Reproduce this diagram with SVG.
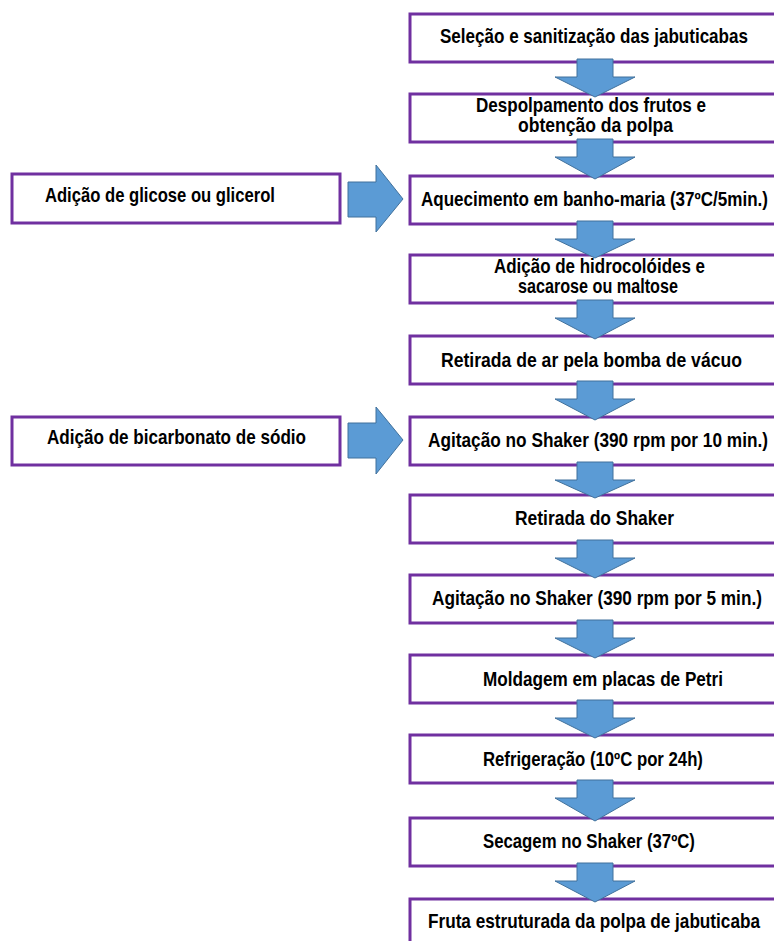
<svg xmlns="http://www.w3.org/2000/svg" width="774" height="941" viewBox="0 0 774 941">
<style>
.box{fill:#ffffff;stroke:#7030A0;stroke-width:3}
.t{font-family:"Liberation Sans",Arial,sans-serif;font-weight:bold;font-size:19.5px;fill:#000000}
.ar{fill:#5B9BD5;stroke:#41719C;stroke-width:1}
</style>
<rect width="774" height="941" fill="#ffffff"/>
<g id="n1"><rect class="box" x="410" y="14" width="380" height="48"/><text class="t" transform="scale(0.85 1)" x="517.6" y="43" textLength="362.4" lengthAdjust="spacingAndGlyphs">Seleção e sanitização das jabuticabas</text></g>
<g id="n2"><rect class="box" x="410" y="94" width="380" height="48"/><text class="t" transform="scale(0.85 1)" x="560" y="112" textLength="270.6" lengthAdjust="spacingAndGlyphs">Despolpamento dos frutos e</text><text class="t" transform="scale(0.85 1)" x="609.4" y="132" textLength="182.4" lengthAdjust="spacingAndGlyphs">obtenção da polpa</text></g>
<g id="n3"><rect class="box" x="410" y="176" width="380" height="48"/><text class="t" transform="scale(0.85 1)" x="495.3" y="206" textLength="408.2" lengthAdjust="spacingAndGlyphs">Aquecimento em banho-maria (37ºC/5min.)</text></g>
<g id="n4"><rect class="box" x="410" y="255" width="380" height="48"/><text class="t" transform="scale(0.85 1)" x="581.2" y="273" textLength="248.2" lengthAdjust="spacingAndGlyphs">Adição de hidrocolóides e</text><text class="t" transform="scale(0.85 1)" x="609.4" y="293" textLength="188.2" lengthAdjust="spacingAndGlyphs">sacarose ou maltose</text></g>
<g id="n5"><rect class="box" x="410" y="336" width="380" height="48"/><text class="t" transform="scale(0.85 1)" x="518.8" y="367" textLength="354.1" lengthAdjust="spacingAndGlyphs">Retirada de ar pela bomba de vácuo</text></g>
<g id="n6"><rect class="box" x="410" y="417" width="380" height="48"/><text class="t" transform="scale(0.85 1)" x="503.5" y="447" textLength="400" lengthAdjust="spacingAndGlyphs">Agitação no Shaker (390 rpm por 10 min.)</text></g>
<g id="n7"><rect class="box" x="410" y="495" width="380" height="48"/><text class="t" transform="scale(0.85 1)" x="605.9" y="525" textLength="187.1" lengthAdjust="spacingAndGlyphs">Retirada do Shaker</text></g>
<g id="n8"><rect class="box" x="410" y="575" width="380" height="48"/><text class="t" transform="scale(0.85 1)" x="508.2" y="605" textLength="388.2" lengthAdjust="spacingAndGlyphs">Agitação no Shaker (390 rpm por 5 min.)</text></g>
<g id="n9"><rect class="box" x="410" y="655" width="380" height="48"/><text class="t" transform="scale(0.85 1)" x="568.2" y="686" textLength="282.4" lengthAdjust="spacingAndGlyphs">Moldagem em placas de Petri</text></g>
<g id="n10"><rect class="box" x="410" y="735" width="380" height="48"/><text class="t" transform="scale(0.85 1)" x="568.2" y="766" textLength="258.8" lengthAdjust="spacingAndGlyphs">Refrigeração (10ºC por 24h)</text></g>
<g id="n11"><rect class="box" x="410" y="818" width="380" height="48"/><text class="t" transform="scale(0.85 1)" x="568.2" y="848" textLength="249.4" lengthAdjust="spacingAndGlyphs">Secagem no Shaker (37ºC)</text></g>
<g id="n12"><rect class="box" x="410" y="899" width="380" height="60"/><text class="t" transform="scale(0.85 1)" x="503.5" y="928" textLength="390.6" lengthAdjust="spacingAndGlyphs">Fruta estruturada da polpa de jabuticaba</text></g>
<g id="l1"><rect class="box" x="12" y="174" width="328" height="49"/><text class="t" transform="scale(0.85 1)" x="52.9" y="202" textLength="270.6" lengthAdjust="spacingAndGlyphs">Adição de glicose ou glicerol</text></g>
<g id="l2"><rect class="box" x="12" y="417" width="328" height="48"/><text class="t" transform="scale(0.85 1)" x="55.3" y="444" textLength="304.7" lengthAdjust="spacingAndGlyphs">Adição de bicarbonato de sódio</text></g>
<g id="connectors">
<polygon class="ar" points="577,59 613,59 613,77 635,77 595,97 555,77 577,77"/>
<polygon class="ar" points="577,139 613,139 613,157 635,157 595,179 555,157 577,157"/>
<polygon class="ar" points="577,221 613,221 613,239 635,239 595,258 555,239 577,239"/>
<polygon class="ar" points="577,300 613,300 613,318 635,318 595,339 555,318 577,318"/>
<polygon class="ar" points="577,381 613,381 613,399 635,399 595,420 555,399 577,399"/>
<polygon class="ar" points="577,462 613,462 613,480 635,480 595,498 555,480 577,480"/>
<polygon class="ar" points="577,540 613,540 613,558 635,558 595,578 555,558 577,558"/>
<polygon class="ar" points="577,620 613,620 613,638 635,638 595,658 555,638 577,638"/>
<polygon class="ar" points="577,700 613,700 613,718 635,718 595,738 555,718 577,718"/>
<polygon class="ar" points="577,780 613,780 613,798 635,798 595,821 555,798 577,798"/>
<polygon class="ar" points="577,863 613,863 613,881 635,881 595,902 555,881 577,881"/>
<polygon class="ar" points="348,182 376,182 376,165 403,199 376,232 376,217 348,217"/>
<polygon class="ar" points="348,423 376,423 376,407 403,440 376,474 376,458 348,458"/>
</g>
</svg>
